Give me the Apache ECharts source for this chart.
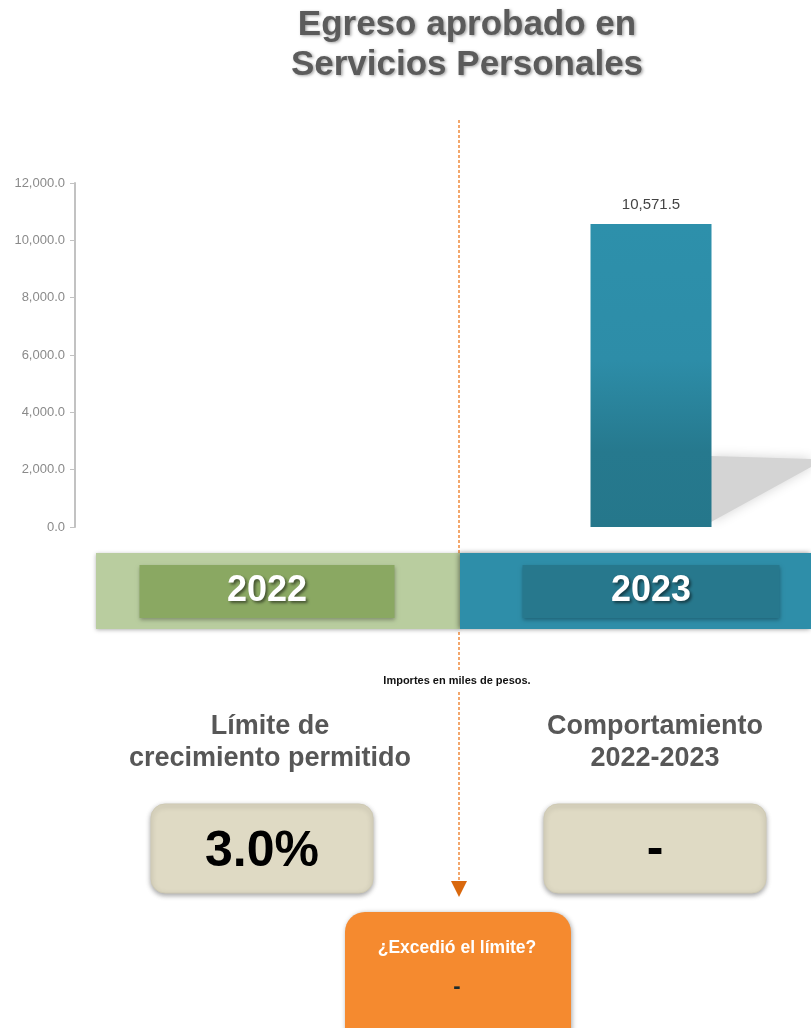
<!DOCTYPE html>
<html>
<head>
<meta charset="utf-8">
<script src="https://cdn.jsdelivr.net/npm/echarts@6/dist/echarts.min.js"></script>
<style>html,body{margin:0;padding:0;background:#fff;overflow:hidden;width:811px;height:1028px;}#c{width:850px;height:1028px;}</style>
</head>
<body>
<div id="c"></div>
<script>
const categories = ['2022', '2023'];
const approved = [null, 10571.5];
const yTicks = [0, 2000, 4000, 6000, 8000, 10000, 12000];
const limitText = '3.0%';
const behaviorText = '-';
const exceededText = '-';

const FONT = '"Liberation Sans", Arial, Helvetica, sans-serif';
const fmt = v => v.toLocaleString('en-US', {minimumFractionDigits: 1, maximumFractionDigits: 1});

const chart = echarts.init(document.getElementById('c'));
const shadowTxt = {shadowColor: 'rgba(0,0,0,0.35)', shadowBlur: 3, shadowOffsetX: 1.5, shadowOffsetY: 1.5};
const dash = {stroke: '#f08a3c', lineDash: [3, 2], lineWidth: 1.5};

chart.setOption({
  backgroundColor: '#fff',
  animation: false,
  title: {
    text: 'Egreso aprobado en\nServicios Personales',
    left: 462, top: 0, textAlign: 'center',
    textStyle: {fontFamily: FONT, fontWeight: 'bold', fontSize: 35, lineHeight: 40, color: '#5b5b5b',
      textShadowColor: 'rgba(0,0,0,0.35)', textShadowBlur: 3, textShadowOffsetX: 1.5, textShadowOffsetY: 1.5}
  },
  grid: {left: 75, top: 183, width: 768, bottom: 501, containLabel: false},
  xAxis: {
    type: 'category', data: categories,
    axisLine: {show: false}, axisTick: {show: false},
    axisLabel: {
      margin: 38, verticalAlign: 'top',
      formatter: v => (v === '2022' ? '{a|' : '{b|') + v + '}',
      rich: {
        a: {width: 255, height: 53, lineHeight: 53, align: 'center', backgroundColor: '#8aa862',
          color: '#fff', fontFamily: FONT, fontWeight: 'bold', fontSize: 36,
          shadowColor: 'rgba(0,0,0,0.3)', shadowBlur: 4, shadowOffsetY: 2,
          textShadowColor: 'rgba(0,0,0,0.5)', textShadowBlur: 3, textShadowOffsetX: 2, textShadowOffsetY: 2},
        b: {width: 257, height: 53, lineHeight: 53, align: 'center', backgroundColor: '#27788d',
          color: '#fff', fontFamily: FONT, fontWeight: 'bold', fontSize: 36,
          shadowColor: 'rgba(0,0,0,0.3)', shadowBlur: 4, shadowOffsetY: 2,
          textShadowColor: 'rgba(0,0,0,0.5)', textShadowBlur: 3, textShadowOffsetX: 2, textShadowOffsetY: 2}
      }
    },
    z: 10
  },
  yAxis: {
    type: 'value', min: yTicks[0], max: yTicks[yTicks.length - 1], interval: 2000,
    splitLine: {show: false},
    axisLine: {show: true, lineStyle: {color: '#c2c2c2', width: 2}},
    axisTick: {show: true, length: 5, lineStyle: {color: '#c2c2c2'}},
    axisLabel: {color: '#8a8a8a', fontFamily: FONT, fontSize: 13, margin: 10, formatter: fmt}
  },
  series: [{
    type: 'bar', data: approved, barWidth: 121,
    itemStyle: {
      color: {type: 'linear', x: 0, y: 0, x2: 0, y2: 1, colorStops: [
        {offset: 0, color: '#2d90ab'}, {offset: 0.45, color: '#2d8da8'},
        {offset: 0.75, color: '#26798e'}, {offset: 1, color: '#25778b'}]}
    },
    label: {show: true, position: 'top', distance: 12, color: '#444', fontFamily: FONT, fontSize: 15,
      formatter: p => fmt(p.value)},
    z: 5
  }],
  graphic: [
    // bar ground shadow
    {type: 'polygon', z: 1, shape: {points: [[711, 456], [811, 459], [811, 467], [711, 522]]},
      style: {fill: '#d4d4d4', shadowColor: '#d4d4d4', shadowBlur: 12}},
    // dashed line
    {type: 'line', z: 0, shape: {x1: 459, y1: 120, x2: 459, y2: 553}, style: dash},
    {type: 'line', z: 0, shape: {x1: 459, y1: 632, x2: 459, y2: 671}, style: dash},
    {type: 'line', z: 0, shape: {x1: 459, y1: 692, x2: 459, y2: 882}, style: dash},
    {type: 'polygon', z: 0, shape: {points: [[451, 881], [467, 881], [459, 897]]}, style: {fill: '#d9680e'}},
    // year band
    {type: 'rect', z: 1, shape: {x: 96, y: 553, width: 364, height: 76},
      style: {fill: '#b9cd9f', shadowColor: 'rgba(0,0,0,0.3)', shadowBlur: 4, shadowOffsetY: 1}},
    {type: 'rect', z: 1, shape: {x: 460, y: 553, width: 351, height: 76},
      style: {fill: '#2e8ea9', shadowColor: 'rgba(0,0,0,0.45)', shadowBlur: 5, shadowOffsetX: -1}},
    // note
    {type: 'text', z: 2, style: {text: 'Importes en miles de pesos.', x: 457, y: 681, textAlign: 'center', textVerticalAlign: 'middle',
      font: 'bold 11px ' + FONT, fill: '#111'}},
    // headings
    {type: 'text', z: 2, style: Object.assign({text: 'Límite de\ncrecimiento permitido', x: 270, y: 743, textAlign: 'center', textVerticalAlign: 'middle',
      font: 'bold 27px ' + FONT, lineHeight: 32, fill: '#575757'}, shadowTxt)},
    {type: 'text', z: 2, style: Object.assign({text: 'Comportamiento\n2022-2023', x: 655, y: 743, textAlign: 'center', textVerticalAlign: 'middle',
      font: 'bold 27px ' + FONT, lineHeight: 32, fill: '#575757'}, shadowTxt)},
    // boxes
    {type: 'rect', z: 1, shape: {x: 151, y: 804, width: 222, height: 89, r: 14},
      style: {fill: '#dfdac4', stroke: '#cfcab4', lineWidth: 1, shadowColor: 'rgba(0,0,0,0.35)', shadowBlur: 5, shadowOffsetY: 2}},
    {type: 'text', z: 2, style: {text: limitText, x: 262, y: 852, textAlign: 'center', textVerticalAlign: 'middle',
      font: 'bold 50px ' + FONT, fill: '#000'}},
    {type: 'rect', z: 1, shape: {x: 544, y: 804, width: 222, height: 89, r: 14},
      style: {fill: '#dfdac4', stroke: '#cfcab4', lineWidth: 1, shadowColor: 'rgba(0,0,0,0.35)', shadowBlur: 5, shadowOffsetY: 2}},
    {type: 'text', z: 2, style: {text: behaviorText, x: 655, y: 850, textAlign: 'center', textVerticalAlign: 'middle',
      font: 'bold 50px ' + FONT, fill: '#000'}},
    // orange box
    {type: 'rect', z: 1, shape: {x: 345, y: 912, width: 226, height: 140, r: 20},
      style: {fill: '#f58a2f', shadowColor: 'rgba(0,0,0,0.35)', shadowBlur: 5, shadowOffsetX: 1, shadowOffsetY: 1}},
    {type: 'text', z: 2, style: {text: '¿Excedió el límite?', x: 457, y: 948, textAlign: 'center', textVerticalAlign: 'middle',
      font: 'bold 17.5px ' + FONT, fill: '#fff'}},
    {type: 'text', z: 2, style: {text: exceededText, x: 457, y: 987, textAlign: 'center', textVerticalAlign: 'middle',
      font: 'bold 22px ' + FONT, fill: '#1b2b2e'}}
  ]
});
</script>
</body>
</html>
